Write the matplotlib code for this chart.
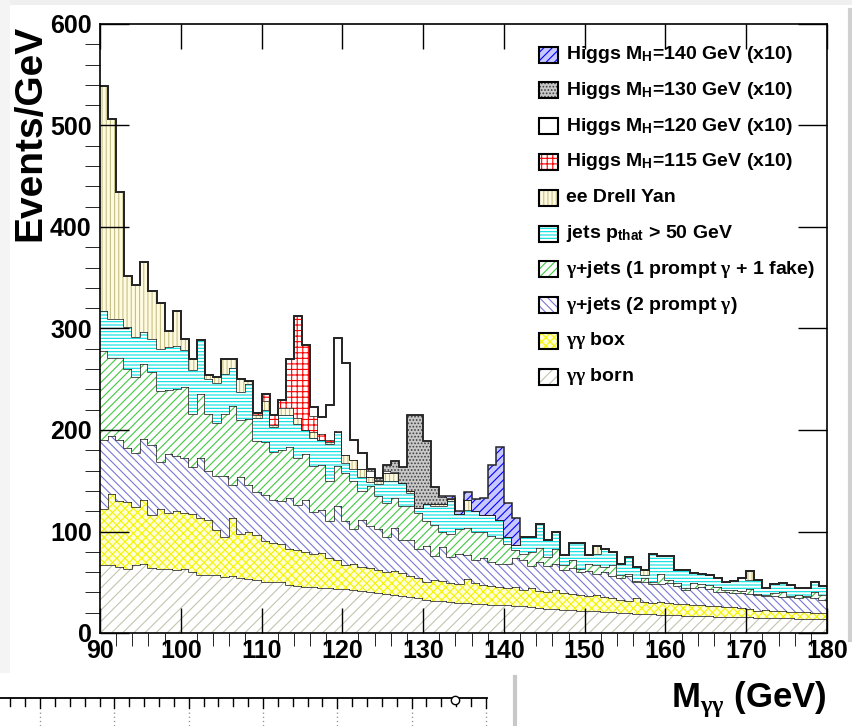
import numpy as np
import matplotlib
matplotlib.use('Agg')
import matplotlib.pyplot as plt
from matplotlib import font_manager
from matplotlib.patches import Rectangle
from matplotlib.ticker import MultipleLocator

# stacked levels, one value per 1 GeV bin (90..179)
born_top = [67, 67, 65, 63, 67, 68, 64, 63, 63, 62,
            63, 60, 57, 57, 57, 55, 56, 54, 53, 52,
            50, 50, 50, 47, 46, 45, 45, 44, 44, 43,
            43, 42, 41, 40, 39, 38, 37, 36, 35, 34,
            33, 32, 32, 31, 30, 30, 29, 29, 28, 28,
            28, 27, 27, 26, 25, 24, 24, 23, 23, 22,
            22, 22, 21, 21, 20, 20, 19, 19, 19, 18,
            18, 18, 17, 17, 17, 17, 16, 16, 16, 16,
            16, 15, 15, 15, 15, 15, 14, 14, 14, 14]
box_top = [122, 137, 130, 129, 124, 131, 116, 122, 118, 120,
           118, 117, 113, 111, 101, 95, 113, 98, 100, 97,
           91, 89, 88, 83, 82, 80, 78, 79, 74, 72,
           67, 68, 65, 64, 62, 60, 61, 59, 56, 54,
           50, 52, 51, 49, 48, 53, 49, 47, 46, 45,
           44, 45, 42, 44, 41, 40, 42, 39, 38, 37,
           36, 37, 35, 34, 33, 32, 34, 31, 30, 31,
           30, 29, 29, 28, 28, 27, 27, 26, 26, 25,
           24, 22, 23, 22, 22, 21, 21, 21, 20, 20]
prompt2_top = [190, 194, 190, 182, 177, 191, 185, 168, 176, 174,
               172, 164, 172, 160, 155, 155, 146, 154, 146, 139,
               136, 131, 130, 133, 126, 131, 119, 121, 110, 125,
               110, 102, 111, 105, 102, 95, 103, 92, 92, 83,
               86, 76, 85, 75, 78, 77, 72, 74, 70, 68,
               68, 74, 72, 66, 70, 66, 68, 62, 64, 60,
               61, 58, 60, 56, 54, 56, 50, 50, 48, 48,
               49, 46, 42, 44, 45, 43, 40, 40, 39, 39,
               38, 37, 36, 36, 35, 35, 34, 35, 34, 33]
fake1_top = [278, 271, 271, 260, 252, 265, 257, 238, 239, 240,
             242, 216, 235, 216, 207, 216, 224, 210, 211, 189,
             188, 178, 180, 183, 172, 176, 165, 166, 150, 165,
             158, 150, 140, 145, 135, 128, 133, 125, 125, 118,
             110, 106, 100, 98, 102, 103, 100, 100, 96, 94,
             88, 82, 78, 80, 84, 75, 83, 67, 72, 63,
             68, 67, 65, 67, 57, 58, 51, 54, 50, 58,
             52, 49, 44, 49, 48, 47, 45, 42, 42, 41,
             43, 38, 37, 39, 40, 36, 37, 36, 40, 37]
jets_top = [317, 309, 309, 301, 292, 297, 290, 280, 282, 283,
            279, 259, 289, 250, 246, 255, 261, 237, 245, 212,
            220, 203, 215, 215, 206, 200, 192, 190, 186, 198,
            167, 162, 154, 149, 147, 150, 150, 148, 138, 123,
            127, 125, 125, 130, 117, 121, 120, 116, 116, 111,
            95, 87, 95, 95, 107, 92, 100, 77, 89, 89,
            77, 78, 83, 80, 68, 75, 65, 57, 78, 76,
            76, 62, 62, 59, 58, 57, 54, 50, 51, 54,
            52, 52, 44, 48, 49, 47, 44, 44, 50, 46]
dy_top = [539, 506, 434, 352, 343, 366, 337, 325, 298, 317,
          290, 270, 289, 254, 252, 270, 270, 250, 248, 215,
          229, 205, 222, 222, 212, 200, 198, 190, 188, 198,
          175, 170, 162, 154, 150, 158, 158, 148, 140, 123,
          127, 127, 127, 132, 117, 131, 120, 116, 116, 111,
          95, 87, 95, 95, 107, 92, 100, 77, 89, 89,
          77, 86, 83, 80, 68, 75, 65, 62, 78, 76,
          76, 62, 62, 59, 58, 57, 54, 50, 51, 54,
          61, 52, 44, 48, 49, 47, 44, 44, 50, 46]

# Higgs signals (x10), stacked on top of the background
h115_mass = list(range(109, 120))
h115 = [2, 6, 10, 8, 48, 100, 84, 16, 6, 2, 1]
h120_mass = list(range(116, 127))
h120 = [9, 17, 35, 92, 91, 20, 15, 6, 1, 2, 1]
h130_mass = list(range(123, 134))
h130 = [2, 2, 6, 10, 16, 75, 92, 62, 17, 7, 1]
h140_mass = list(range(132, 142))
h140 = [1, 2, 3, 8, 12, 17, 50, 72, 33, 26]

labels = [r'Higgs M$_{\mathrm{H}}$=140 GeV (x10)',
          r'Higgs M$_{\mathrm{H}}$=130 GeV (x10)',
          r'Higgs M$_{\mathrm{H}}$=120 GeV (x10)',
          r'Higgs M$_{\mathrm{H}}$=115 GeV (x10)',
          'ee Drell Yan',
          r'jets p$_{\mathrm{that}}$ > 50 GeV',
          r'$\gamma$+jets (1 prompt $\gamma$ + 1 fake)',
          r'$\gamma$+jets (2 prompt $\gamma$)',
          r'$\gamma\gamma$ box',
          r'$\gamma\gamma$ born']

names = {f.name for f in font_manager.fontManager.ttflist}
SANS = 'Liberation Sans Narrow' if 'Liberation Sans Narrow' in names else 'Liberation Sans'
plt.rcParams['font.family'] = SANS
plt.rcParams['font.weight'] = 'bold'
plt.rcParams['mathtext.fontset'] = 'custom'
plt.rcParams['mathtext.rm'] = SANS + ':bold'
plt.rcParams['mathtext.bf'] = SANS + ':bold'
plt.rcParams['mathtext.it'] = 'Liberation Serif'   # greek letters come out thin
plt.rcParams['hatch.linewidth'] = 0.8

# (face, hatch colour, hatch) per layer, bottom to top
STY = {
    'born': ('white', '#c4c4b0', '///'),
    'box': ('#ffffd8', '#f4f400', 'xxxx'),
    'p2': ('white', '#7878d8', '\\\\\\\\'),
    'f1': ('white', '#40c840', '////'),
    'jets': ('white', '#00e0e0', '-----'),
    'dy': ('#fffbe0', '#c8c088', '||||'),
    'h115': ('white', '#ff0000', '+++'),
    'h120': ('white', 'white', None),
    'h130': ('#c8c8c8', '#404040', '.....'),
    'h140': ('#c8c8ff', '#0000ff', '////'),
}
LINE = '#262626'

W, H = 853, 726
fig = plt.figure(figsize=(W / 100, H / 100), dpi=100)
ax = fig.add_axes([100 / W, 1 - 633 / H, 727 / W, 609 / H])

edges = np.arange(90, 181)


def layer(top, bottom, key):
    face, hc, hatch = STY[key]
    ax.stairs(top, edges, baseline=bottom, fill=True, facecolor=face,
              edgecolor=hc, hatch=hatch, linewidth=0)
    ax.stairs(top, edges, baseline=None, color=LINE, linewidth=1.1)


levels = [np.array(born_top, float), np.array(box_top, float),
          np.array(prompt2_top, float), np.array(fake1_top, float),
          np.array(jets_top, float), np.array(dy_top, float)]
prev = np.zeros(90)
for lev, key in zip(levels, ['born', 'box', 'p2', 'f1', 'jets', 'dy']):
    layer(lev, prev, key)
    prev = lev

for mass, vals, key in [(h115_mass, h115, 'h115'), (h120_mass, h120, 'h120'),
                        (h130_mass, h130, 'h130'), (h140_mass, h140, 'h140')]:
    sig = np.zeros(90)
    sig[np.array(mass) - 90] = vals
    layer(prev + sig, prev.copy(), key)
    prev = prev + sig

ax.set_xlim(90, 180)
ax.set_ylim(0, 600)
ax.xaxis.set_major_locator(MultipleLocator(10))
ax.xaxis.set_minor_locator(MultipleLocator(2))
ax.yaxis.set_major_locator(MultipleLocator(100))
ax.yaxis.set_minor_locator(MultipleLocator(20))
ax.tick_params(direction='in', top=True, right=True, width=1, colors='black',
               labelsize=18)
ax.tick_params(axis='x', which='major', length=18, pad=4)
ax.tick_params(axis='x', which='minor', length=9)
ax.tick_params(axis='y', which='major', length=21, pad=6)
ax.tick_params(axis='y', which='minor', length=11)
for s in ax.spines.values():
    s.set_linewidth(1.2)

# overlay in pixel coordinates for labels, legend and screenshot leftovers
ov = fig.add_axes([0, 0, 1, 1])
ov.set_xlim(0, W)
ov.set_ylim(H, 0)
ov.axis('off')
ov.add_patch(Rectangle((0, 0), W, 5, facecolor='#efefef', edgecolor='none'))
ov.add_patch(Rectangle((0, 0), 10, 673, facecolor='#f4f4f4', edgecolor='none'))
ov.plot([850, 850], [10, 640], color='#d0d0d0', lw=3)
ov.plot([515, 515], [677, H], color='#c8c8c8', lw=3)

# part of another plot's axis below
ov.plot([0, 487], [698, 698], color='black', lw=1.3)
for k in range(33):
    x = 10.4 + 14.86 * k
    if x > 487:
        break
    major = (k - 2) % 5 == 0
    ov.plot([x, x], [698, 708 if major else 706], color='black', lw=1)
    if major:
        ov.plot([x, x], [712, H], color='#999999', lw=1, ls=(0, (1, 2)))
ov.plot([455], [700], marker='o', ms=6, mfc='white', mec='black', mew=1)

ov.text(30, 25, 'Events/GeV', rotation=90, ha='center', va='top',
        fontsize=28, fontweight='bold')
ov.text(826, 707, r'M$_{\gamma\gamma}$ (GeV)', ha='right',
        va='baseline', fontsize=25)

leg_keys = ['h140', 'h130', 'h120', 'h115', 'dy', 'jets', 'f1', 'p2', 'box', 'born']
for i, (key, lab) in enumerate(zip(leg_keys, labels)):
    yc = 54.5 + 35.8 * i
    face, hc, hatch = STY[key]
    ov.add_patch(Rectangle((539, yc - 8), 19, 16, facecolor=face, edgecolor=hc,
                           hatch=hatch, linewidth=0))
    ov.add_patch(Rectangle((539, yc - 8), 19, 16, facecolor='none',
                           edgecolor='black', linewidth=1.5))
    ov.text(566, yc, lab, ha='left', va='center', fontsize=14)

fig.savefig('out.png', dpi=100)
